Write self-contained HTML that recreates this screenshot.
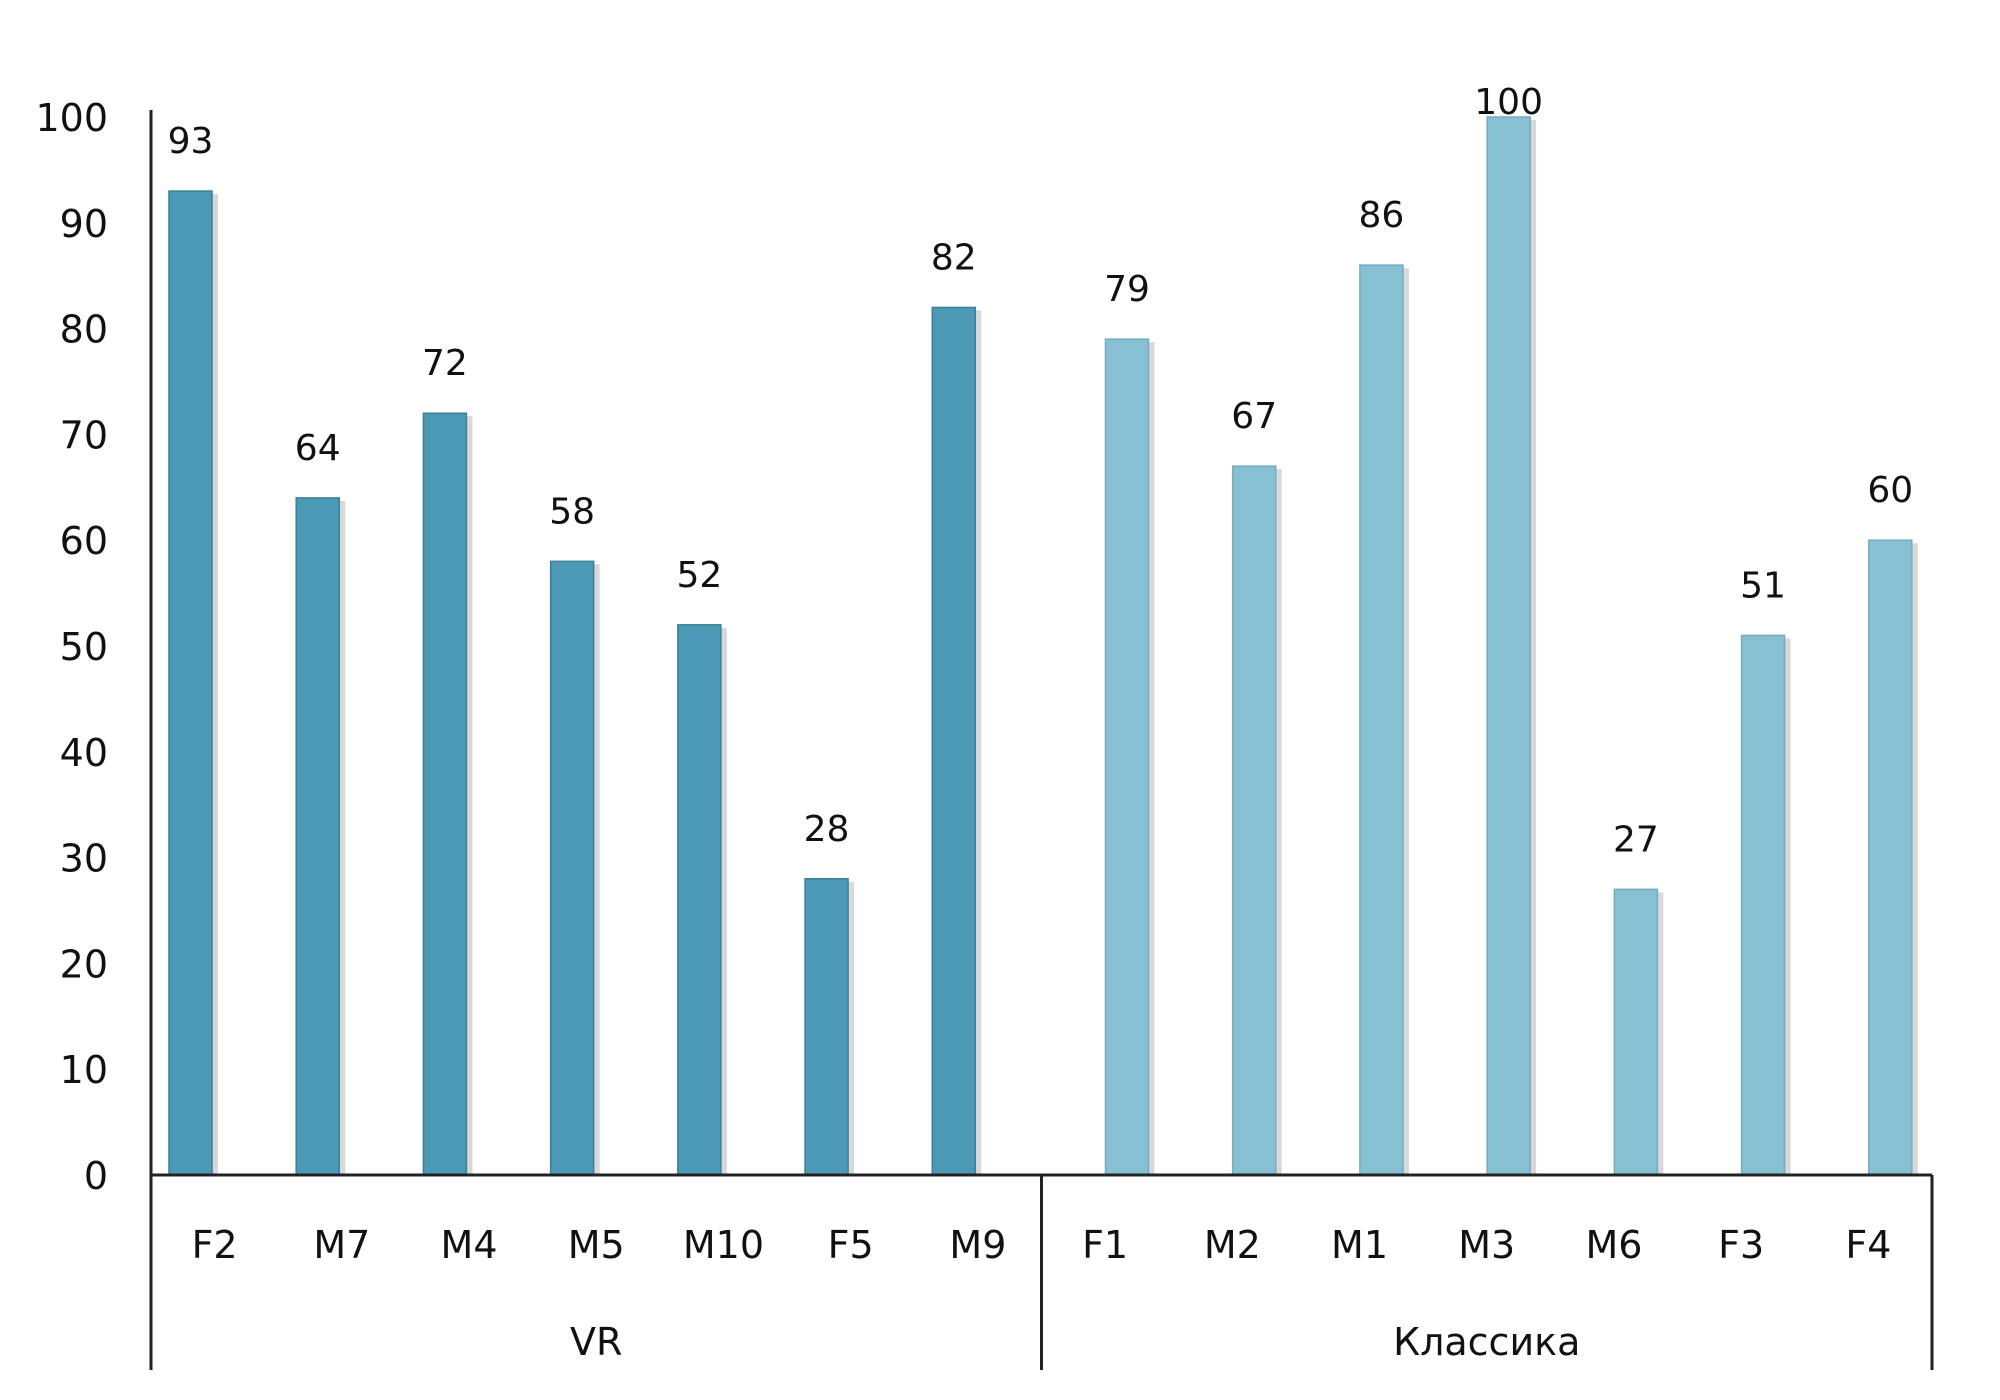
<!DOCTYPE html>
<html><head><meta charset="utf-8"><style>
html,body{margin:0;padding:0;background:#fff;}
svg{display:block;}
text{font-family:"DejaVu Sans","Liberation Sans",sans-serif;fill:#111;}
</style></head><body>
<svg id="chart" width="2000" height="1400" viewBox="0 0 2000 1400" xmlns="http://www.w3.org/2000/svg"></svg>
<script>
const categories = ["F2","M7","M4","M5","M10","F5","M9","F1","M2","M1","M3","M6","F3","F4"];
const vrValues = [93,64,72,58,52,28,82,null,null,null,null,null,null,null];
const classicValues = [null,null,null,null,null,null,null,79,67,86,100,27,51,60];
const yTicks = [0,10,20,30,40,50,60,70,80,90,100];
const groups = ["VR","Классика"];
const groupSizes = [7,7];

const svg = document.getElementById('chart');
const NS = "http://www.w3.org/2000/svg";
const x0 = 151, x1 = 1932, yZero = 1175, unit = 10.58;
const catW = (x1 - x0) / categories.length;
const barW = 43;
function yScale(v){ return yZero - v * unit; }
function xCat(i){ return x0 + i * catW; }
function mk(tag, attrs){ const e = document.createElementNS(NS, tag); for (const k in attrs) e.setAttribute(k, attrs[k]); svg.appendChild(e); return e; }

yTicks.forEach(t => {
  const e = mk('text', {x:108, y:yScale(t)+14, 'text-anchor':'end', 'font-size':38});
  e.textContent = t;
  
  
});

function drawSeries(vals, offset, color, border, name){
  vals.forEach((v, i) => {
    if (v === null) return;
    const bx = xCat(i) + offset, by = yScale(v);
    const sh = mk('rect', {x:bx+barW, y:by+3, width:6, height:yZero-by-3, fill:'#d8d8d8'});
    
    
    const r = mk('rect', {x:bx, y:by, width:barW, height:yZero-by, fill:color, stroke:border, 'stroke-width':1.5});
    
    
    const t = mk('text', {x:bx+barW/2, y:Math.max(by-38, 114), 'text-anchor':'middle', 'font-size':36});
    t.textContent = v;
    
    
  });
}
drawSeries(vrValues, 18, '#4b99b5', '#3b7f98', 'vr');
drawSeries(classicValues, 64, '#88c0d3', '#74abbf', 'classic');

const ya = mk('line', {x1:x0, y1:110, x2:x0, y2:1370, stroke:'#222', 'stroke-width':3});


const xa = mk('line', {x1:x0, y1:yZero, x2:x1, y2:yZero, stroke:'#222', 'stroke-width':3});



categories.forEach((c, i) => {
  const t = mk('text', {x:xCat(i)+catW/2, y:1258, 'text-anchor':'middle', 'font-size':38});
  t.textContent = c;
  
  
});

let start = 0;
groups.forEach((g, gi) => {
  const end = start + groupSizes[gi];
  const gx = xCat(end);
  const l = mk('line', {x1:gx, y1:yZero, x2:gx, y2:1370, stroke:'#222', 'stroke-width':3});
  
  
  const t = mk('text', {x:(xCat(start)+gx)/2, y:1355, 'text-anchor':'middle', 'font-size':38});
  t.textContent = g;
  
  
  start = end;
});
</script>
</body></html>
